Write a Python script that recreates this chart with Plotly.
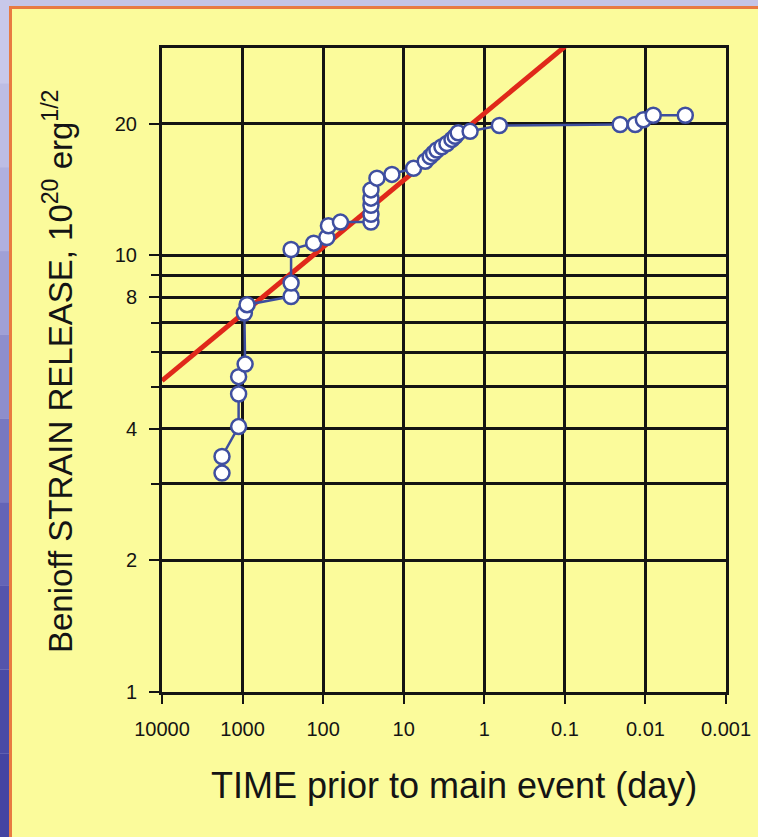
import plotly.graph_objects as go

# ---- data ----
time_days = [1800, 1800, 1120, 1120, 1120, 930, 950, 880, 250, 250, 250,
             131, 90, 86, 61,
             25.5, 25.5, 25.5, 25.5, 25.5,
             21.5, 14.0, 7.55,
             5.4, 4.7, 4.26, 3.87, 3.36, 2.91, 2.52, 2.3, 2.11,
             1.5, 0.65, 0.0206, 0.0134, 0.0106, 0.008, 0.0032]
strain = [3.17, 3.46, 4.05, 4.81, 5.27, 5.63, 7.37, 7.70, 8.04, 8.63, 10.3,
          10.65, 10.97, 11.67, 11.9,
          11.9, 12.4, 13.0, 13.5, 14.1,
          15.0, 15.3, 15.8,
          16.4, 16.8, 17.1, 17.4, 17.7, 18.0, 18.4, 18.7, 19.05,
          19.2, 19.8, 19.9, 19.9, 20.4, 20.9, 20.9]

fit_time = [10000, 0.1]
fit_strain = [5.16, 30.0]

x_tickvals = [10000, 1000, 100, 10, 1, 0.1, 0.01, 0.001]
x_ticktext = ["10000", "1000", "100", "10", "1", "0.1", "0.01", "0.001"]
y_tickvals = [1, 2, 4, 8, 10, 20]
y_ticktext = ["1", "2", "4", "8", "10", "20"]
y_minor_vals = [3, 5, 6, 7, 9]

x_title = "TIME prior to main event (day)"
y_title = "Benioff STRAIN RELEASE, 10<sup>20</sup> erg<sup>1/2</sup>"

# ---- geometry helpers (page pixels -> paper coords) ----
L, R, T, B = 162, 32, 48, 145
W, H = 758, 837
PW, PH = W - L - R, H - T - B


def px(x):
    return (x - L) / PW


def py(y):
    return (H - B - y) / PH


fig = go.Figure()

fig.add_trace(go.Scatter(
    x=fit_time, y=fit_strain, mode="lines",
    line=dict(color="#E0281A", width=5),
    hoverinfo="skip", showlegend=False))

fig.add_trace(go.Scatter(
    x=time_days, y=strain, mode="lines+markers",
    line=dict(color="#3D4E9E", width=2.5),
    marker=dict(symbol="circle", size=15, color="white",
                line=dict(color="#3F4FA0", width=2.5)),
    showlegend=False))

shapes = []
# bluish backdrop gradient on the left strip
bands = ["#C8C8EA", "#BDBDE4", "#B0B0DE", "#A0A0D6", "#8E8ECC", "#7878C0",
         "#6464B6", "#5454AC", "#4A4AA6", "#4444A2"]
n = len(bands)
for i, c in enumerate(bands):
    shapes.append(dict(type="rect", xref="paper", yref="paper",
                       x0=px(0), x1=px(10), y0=py(H * (i + 1) / n), y1=py(H * i / n),
                       fillcolor=c, line=dict(width=0), layer="below"))
# yellow panel with orange edge
shapes.append(dict(type="rect", xref="paper", yref="paper",
                   x0=px(9), x1=px(W + 5), y0=py(H + 5), y1=py(6),
                   fillcolor="#E87A42", line=dict(width=0), layer="below"))
shapes.append(dict(type="rect", xref="paper", yref="paper",
                   x0=px(12), x1=px(W + 5), y0=py(H + 5), y1=py(9),
                   fillcolor="#FBFB9B", line=dict(width=0), layer="below"))

fig.update_layout(
    width=W, height=H,
    margin=dict(l=L, r=R, t=T, b=B, autoexpand=False),
    paper_bgcolor="#C4C4E6",
    plot_bgcolor="rgba(0,0,0,0)",
    shapes=shapes,
    font=dict(family="Liberation Sans, Arial, sans-serif", color="#141414"),
    annotations=[
        dict(text=x_title, xref="paper", yref="paper", x=px(454), y=py(785),
             xanchor="center", yanchor="middle", showarrow=False,
             font=dict(size=36, color="#141414")),
        dict(text=y_title, xref="paper", yref="paper", x=px(58), y=py(372),
             xanchor="center", yanchor="middle", showarrow=False, textangle=-90,
             font=dict(size=33, color="#141414")),
    ],
)

fig.update_xaxes(
    type="log", autorange=False, range=[4, -3],
    tickvals=x_tickvals, ticktext=x_ticktext,
    showgrid=True, gridcolor="#141414", gridwidth=3,
    showline=True, linecolor="#141414", linewidth=3, mirror=True,
    ticks="outside", ticklen=9, tickwidth=2, tickcolor="#141414",
    tickfont=dict(size=20), ticklabelstandoff=8,
    zeroline=False,
)

fig.update_yaxes(
    type="log", autorange=False, range=[0, 1.474],
    tickvals=y_tickvals, ticktext=y_ticktext,
    showgrid=True, gridcolor="#141414", gridwidth=2.5,
    showline=True, linecolor="#141414", linewidth=3, mirror=True,
    ticks="outside", ticklen=10, tickwidth=2, tickcolor="#141414",
    tickfont=dict(size=20), ticklabelstandoff=8,
    minor=dict(tickmode="array", tickvals=y_minor_vals, showgrid=True,
               gridcolor="#141414", gridwidth=2.5, ticks="outside",
               ticklen=8, tickwidth=2, tickcolor="#141414"),
    zeroline=False,
)

fig.write_html("out.html")
